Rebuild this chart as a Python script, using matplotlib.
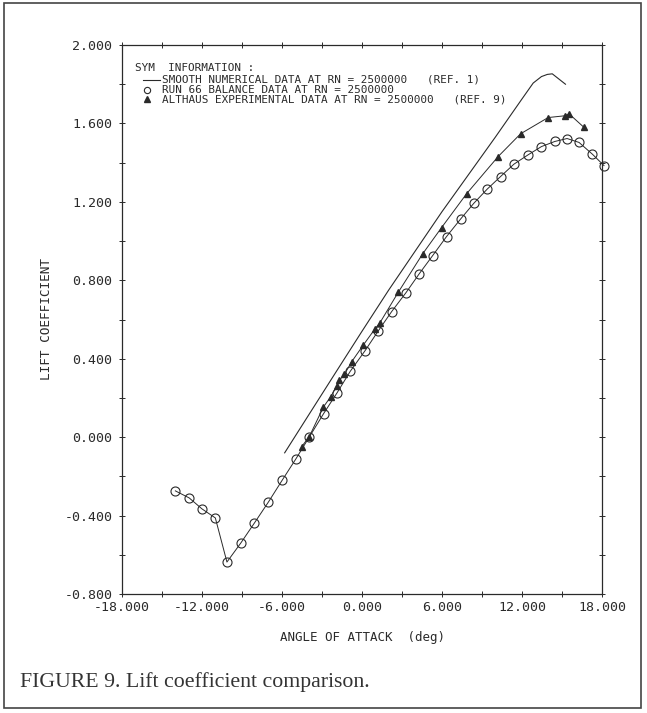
import matplotlib.pyplot as plt
from matplotlib.lines import Line2D
from matplotlib.patches import Rectangle
import numpy as np

# smooth numerical data (ref. 1)
smooth_alpha = [-5.8, -4.0, -2.0, 0.0, 2.0, 4.0, 6.0, 8.0, 10.0, 12.0, 12.84, 13.46, 13.9, 14.27, 14.7, 15.26]
smooth_cl = [-0.08, 0.113, 0.327, 0.54, 0.75, 0.95, 1.15, 1.34, 1.53, 1.725, 1.806, 1.839, 1.85, 1.853, 1.83, 1.80]

# run 66 balance data
run66_alpha = [-14.0, -12.96, -12.0, -11.0, -10.13, -9.09, -8.07, -7.02, -5.97, -4.95, -3.95, -2.88,
               -1.88, -0.88, 0.22, 1.2, 2.22, 3.3, 4.29, 5.3, 6.34, 7.39, 8.39, 9.39, 10.39,
               11.39, 12.46, 13.46, 14.46, 15.38, 16.28, 17.28, 18.15]
run66_cl = [-0.274, -0.31, -0.366, -0.412, -0.637, -0.54, -0.438, -0.331, -0.218, -0.11, 0.001, 0.12,
            0.225, 0.336, 0.44, 0.54, 0.64, 0.737, 0.833, 0.926, 1.023, 1.112, 1.193, 1.265, 1.329,
            1.392, 1.44, 1.482, 1.508, 1.523, 1.503, 1.443, 1.385]

# Althaus experimental data (ref. 9)
althaus_alpha = [-4.52, -3.95, -2.9, -2.34, -1.9, -1.7, -1.32, -0.77, 0.1, 0.95, 1.35, 2.72, 4.55,
                 5.97, 7.84, 10.21, 11.89, 13.96, 15.21, 15.53, 16.63]
althaus_cl = [-0.048, 0.003, 0.153, 0.207, 0.26, 0.29, 0.32, 0.385, 0.47, 0.55, 0.584, 0.739, 0.935,
              1.069, 1.241, 1.431, 1.547, 1.63, 1.639, 1.649, 1.581]

xticks = [-18, -12, -6, 0, 6, 12, 18]
yticks = [-0.8, -0.4, 0.0, 0.4, 0.8, 1.2, 1.6, 2.0]

ink = '#2a2a2a'
mono = 'DejaVu Sans Mono'

fig = plt.figure(figsize=(6.47, 7.13), dpi=100)
fig.patch.set_facecolor('white')
ax = fig.add_axes([122 / 647, 1 - 594 / 713, 480 / 647, 549 / 713])

ax.plot(smooth_alpha, smooth_cl, color=ink, lw=0.8)
ax.plot(run66_alpha, run66_cl, color=ink, lw=0.7, marker='o', ms=6.5, mfc='none',
        mec=ink, mew=0.8, clip_on=False)
ax.plot(althaus_alpha, althaus_cl, color=ink, lw=0.7, marker='^', ms=4, mfc=ink,
        mec=ink, clip_on=False)

ax.set_xlim(-18, 18)
ax.set_ylim(-0.8, 2.0)
ax.set_xticks(xticks)
ax.set_xticklabels([f'{v:.3f}' for v in xticks])
ax.set_yticks(yticks)
ax.set_yticklabels([f'{v:.3f}' for v in yticks])
ax.set_xticks(np.arange(-18, 19, 3), minor=True)
ax.set_yticks(np.arange(-0.8, 2.01, 0.2), minor=True)
ax.tick_params(which='both', direction='inout', length=4, width=0.7, color=ink,
               top=True, right=True, labelsize=9.5, labelcolor=ink)
ax.tick_params(axis='x', pad=3)
ax.tick_params(axis='y', pad=5)
for lab in ax.get_xticklabels() + ax.get_yticklabels():
    lab.set_family(mono)
for s in ax.spines.values():
    s.set_color(ink)
    s.set_linewidth(0.9)

ax.set_xlabel('ANGLE OF ATTACK  (deg)', family=mono, fontsize=9, color=ink, labelpad=12)
ax.set_ylabel('LIFT COEFFICIENT', family=mono, fontsize=9.2, color=ink, labelpad=8)

# legend block written the way the plotter did it
def fx(px):
    return px / 647

def fy(py):
    return 1 - py / 713

fs = 7.9
fig.text(fx(135), fy(68), 'SYM  INFORMATION :', family=mono, fontsize=fs, color=ink, va='center')
fig.add_artist(Line2D([fx(143), fx(160)], [fy(80), fy(80)], color=ink, lw=0.8))
fig.text(fx(162), fy(80), 'SMOOTH NUMERICAL DATA AT RN = 2500000   (REF. 1)',
         family=mono, fontsize=fs, color=ink, va='center')
fig.add_artist(Line2D([fx(147)], [fy(90)], marker='o', ms=4.5, mfc='none', mec=ink, mew=0.8))
fig.text(fx(162), fy(90), 'RUN 66 BALANCE DATA AT RN = 2500000',
         family=mono, fontsize=fs, color=ink, va='center')
fig.add_artist(Line2D([fx(147)], [fy(99)], marker='^', ms=4, mfc=ink, mec=ink))
fig.text(fx(162), fy(99), 'ALTHAUS EXPERIMENTAL DATA AT RN = 2500000   (REF. 9)',
         family=mono, fontsize=fs, color=ink, va='center')

fig.text(fx(20), fy(682), 'FIGURE 9. Lift coefficient comparison.', family='Liberation Serif',
         fontsize=15.7, color='#333333', va='center')

fig.add_artist(Rectangle((fx(4), fy(708)), fx(637), 705 / 713, transform=fig.transFigure,
                         fill=False, edgecolor='#444444', lw=1.2))

fig.savefig('out.png', dpi=100)
